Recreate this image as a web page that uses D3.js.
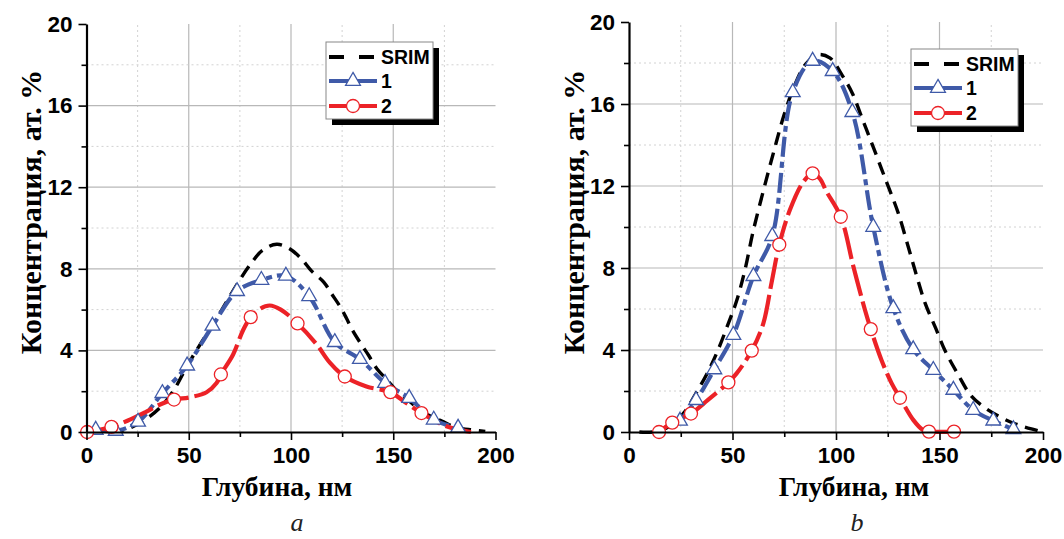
<!DOCTYPE html>
<html>
<head>
<meta charset="utf-8">
<script src="https://cdn.jsdelivr.net/npm/d3@7"></script>
<style>
  body { margin: 0; background: #fff; }
  svg { display: block; }
</style>
</head>
<body>
<svg id="chart" width="1064" height="539"></svg>
<script>
// axis ticks and texts
const xTicks = [0, 50, 100, 150, 200]
const xMinorTicks = [25, 75, 125, 175]
const yTicks = [0, 4, 8, 12, 16, 20]
const yMinorTicks = [2, 6, 10, 14, 18]
const legendLabels = ["SRIM", "1", "2"]
const xTitle = "Глубина, нм"
const yTitle = "Концентрация, ат. %"

// panel a
const srimDepthA = [12, 20, 30, 37, 43, 49, 55, 62, 68, 74, 80, 86, 93, 99, 105, 110, 116, 120, 124, 127, 130, 134, 138, 142, 147, 152, 158, 165, 174, 181, 189, 195]
const srimConcA  = [0, 0.15, 0.7, 1.3, 2.1, 3.2, 4.2, 5.3, 6.3, 7.3, 8.2, 8.9, 9.2, 9.0, 8.5, 7.9, 7.35, 6.75, 6.15, 5.6, 5.0, 4.35, 3.75, 3.1, 2.55, 2.0, 1.5, 0.95, 0.52, 0.22, 0.1, 0.03]
const s1DepthA = [4.5, 14.3, 25.2, 37.1, 49.2, 61.6, 73.6, 85.5, 97.5, 108.9, 121.4, 133.7, 146, 157.8, 169.8, 181.7]
const s1ConcA  = [0.1, 0.05, 0.5, 1.9, 3.25, 5.2, 6.9, 7.45, 7.65, 6.65, 4.4, 3.57, 2.4, 1.66, 0.6, 0.2]
const s2DepthA = [0.3, 12.2, 42.8, 65.7, 80.3, 103.2, 126.3, 148.6, 163.8]
const s2ConcA  = [0, 0.25, 1.59, 2.82, 5.63, 5.32, 2.72, 1.95, 0.93]
const s2LineDepthA = [0.3, 12.2, 20, 29.3, 36, 42.8, 50.5, 58.7, 63.6, 65.7, 71.7, 76.6, 80.3, 85, 89.6, 95, 103.2, 112.5, 119, 126.3, 136.9, 148.6, 156, 163.8, 176, 188]
const s2LineConcA  = [0, 0.25, 0.55, 1.0, 1.35, 1.59, 1.7, 1.95, 2.4, 2.82, 3.8, 5.0, 5.63, 6.05, 6.2, 6.0, 5.32, 4.3, 3.4, 2.72, 2.23, 1.95, 1.45, 0.93, 0.28, 0]

// panel b
const srimDepthB = [5, 13, 20, 27, 33, 38, 43, 48, 52, 56, 60, 65, 70, 75, 80, 85, 91, 97, 103, 108, 113, 118, 124, 130, 135, 139, 143, 148, 153, 159, 165, 171, 178, 184, 190, 197, 199]
const srimConcB  = [0, 0.02, 0.3, 1.0, 2.0, 2.9, 4.0, 5.3, 6.4, 7.9, 9.8, 11.8, 13.7, 15.5, 16.9, 17.9, 18.4, 18.25, 17.4, 16.5, 15.2, 13.9, 12.3, 10.7, 9.0, 7.6, 6.3, 5.1, 3.9, 2.8, 1.8, 1.25, 0.8, 0.5, 0.28, 0.08, 0.02]
const s1DepthB = [24.6, 32.4, 41.2, 50.4, 60.1, 69.2, 79.1, 88.7, 98.4, 107.9, 118, 127.7, 137.3, 147, 156.7, 166.3, 176, 185.7]
const s1ConcB  = [0.54, 1.55, 3.05, 4.73, 7.6, 9.55, 16.57, 18.1, 17.6, 15.6, 10.0, 6.03, 4.03, 3.02, 2.05, 1.07, 0.55, 0.13]
const s2DepthB = [14.5, 20.9, 29.95, 48, 59.3, 72.6, 88.7, 102.3, 116.8, 130.9, 144.9, 157]
const s2ConcB  = [0, 0.46, 0.9, 2.42, 3.97, 9.14, 12.62, 10.5, 5.02, 1.67, 0.02, 0.02]
const s2LineDepthB = [14.5, 20.9, 29.95, 38, 48, 52, 59.3, 64.9, 68.9, 72.6, 77.8, 84.2, 88.7, 92.3, 95.3, 102.3, 108.4, 114, 116.8, 122, 126.9, 130.9, 137.4, 142, 144.9, 157]
const s2LineConcB  = [0, 0.46, 0.9, 1.55, 2.42, 2.86, 3.97, 5.3, 7.3, 9.14, 10.85, 12.2, 12.62, 12.35, 11.75, 10.5, 8.07, 5.95, 5.02, 3.5, 2.37, 1.67, 0.58, 0.1, 0.02, 0.02]

const blue = "#3f5aa8"
const red = "#ec2227"

const svg = d3.select("#chart")

function zip(xs, ys){
  return xs.map((x, i) => [x, ys[i]])
}

function drawPanel(p){
  const x = d3.scaleLinear().domain([0, 200]).range([p.left, p.right])
  const y = d3.scaleLinear().domain([0, 20]).range([p.bottom, p.top])
  const g = svg.append("g")

  // grid
  const grid = g.append("g")
  grid.selectAll(".vmaj").data(xTicks.filter(d => d > 0 && d < 200)).join("line")
    .attr("x1", d => x(d)).attr("x2", d => x(d)).attr("y1", y(0)).attr("y2", y(20))
    .attr("stroke", "#b8b8b8").attr("stroke-width", 1.2)
  grid.selectAll(".vmin").data(xMinorTicks).join("line")
    .attr("x1", d => x(d)).attr("x2", d => x(d)).attr("y1", y(0)).attr("y2", y(20))
    .attr("stroke", "#d2d2d2").attr("stroke-width", 1).attr("stroke-dasharray", "2,3")
  grid.selectAll(".hmaj").data(yTicks.filter(d => d > 0 && d < 20)).join("line")
    .attr("x1", x(0)).attr("x2", x(200)).attr("y1", d => y(d)).attr("y2", d => y(d))
    .attr("stroke", "#b8b8b8").attr("stroke-width", 1.2)
  grid.selectAll(".hmin").data(yMinorTicks).join("line")
    .attr("x1", x(0)).attr("x2", x(200)).attr("y1", d => y(d)).attr("y2", d => y(d))
    .attr("stroke", "#d2d2d2").attr("stroke-width", 1).attr("stroke-dasharray", "2,3")

  const line = d3.line()
    .x(d => x(d[0])).y(d => y(d[1]))
    .curve(d3.curveCatmullRom.alpha(0.5))

  g.append("path").datum(zip(p.srimDepth, p.srimConc))
    .attr("d", line).attr("fill", "none")
    .attr("stroke", "#000").attr("stroke-width", 3.4).attr("stroke-dasharray", "13,8")
  g.append("path").datum(zip(p.s1Depth, p.s1Conc))
    .attr("d", line).attr("fill", "none")
    .attr("stroke", blue).attr("stroke-width", 4.2).attr("stroke-dasharray", "20,5,6,5")
  g.append("path").datum(zip(p.s2LineDepth, p.s2LineConc))
    .attr("d", line).attr("fill", "none")
    .attr("stroke", red).attr("stroke-width", 4.2).attr("stroke-dasharray", "32,6")

  const tri = d3.symbol(d3.symbolTriangle, 95)
  g.selectAll(".tri").data(zip(p.s1Depth, p.s1Conc)).join("path")
    .attr("d", tri)
    .attr("transform", d => `translate(${x(d[0])},${y(d[1])})`)
    .attr("fill", "#fff").attr("stroke", blue).attr("stroke-width", 1.3)
  g.selectAll(".circ").data(zip(p.s2Depth, p.s2Conc)).join("circle")
    .attr("cx", d => x(d[0])).attr("cy", d => y(d[1])).attr("r", 6.5)
    .attr("fill", "#fff").attr("stroke", red).attr("stroke-width", 1.3)

  // axes
  g.append("g").attr("transform", `translate(0,${p.bottom})`)
    .call(d3.axisBottom(x).tickValues(xTicks).tickSize(8).tickSizeOuter(0).tickPadding(7))
  g.append("g").attr("transform", `translate(0,${p.bottom})`)
    .call(d3.axisBottom(x).tickValues(xMinorTicks).tickSize(5).tickFormat(""))
    .call(a => a.select(".domain").remove())
  g.append("g").attr("transform", `translate(${p.left},0)`)
    .call(d3.axisLeft(y).tickValues(yTicks).tickSize(8).tickSizeOuter(0).tickPadding(6))
  g.append("g").attr("transform", `translate(${p.left},0)`)
    .call(d3.axisLeft(y).tickValues(yMinorTicks).tickSize(5).tickFormat(""))
    .call(a => a.select(".domain").remove())

  g.selectAll(".domain").attr("stroke", "#000").attr("stroke-width", 2.2)
  g.selectAll(".tick line").attr("stroke", "#000").attr("stroke-width", 1.6)
  g.selectAll(".tick text")
    .attr("font-family", "'Liberation Sans', Arial, sans-serif")
    .attr("font-weight", "bold").attr("font-size", 22.5).attr("fill", "#000")

  // titles
  g.append("text").attr("x", p.xTitleX).attr("y", 496)
    .attr("text-anchor", "middle")
    .attr("font-family", "'Liberation Serif', 'Times New Roman', serif")
    .attr("font-weight", "bold").attr("font-size", 27.5)
    .text(xTitle)
  g.append("text")
    .attr("transform", `translate(${p.yTitleX},212) rotate(-90)`)
    .attr("text-anchor", "middle")
    .attr("font-family", "'Liberation Serif', 'Times New Roman', serif")
    .attr("font-weight", "bold").attr("font-size", 30)
    .text(yTitle)
  g.append("text").attr("x", p.captionX).attr("y", 531)
    .attr("text-anchor", "middle")
    .attr("font-family", "'Liberation Serif', 'Times New Roman', serif")
    .attr("font-style", "italic").attr("font-size", 26).attr("fill", "#222")
    .text(p.caption)

  // legend
  const lg = g.append("g").attr("transform", `translate(${p.legX},${p.legY})`)
  lg.append("rect").attr("x", 6).attr("y", 6).attr("width", 107).attr("height", 77).attr("fill", "#000")
  lg.append("rect").attr("x", 0).attr("y", 0).attr("width", 107).attr("height", 77)
    .attr("fill", "#fff").attr("stroke", "#888").attr("stroke-width", 1)
  const rows = [15, 39, 64]
  const styles = [
    {stroke: "#000", dash: "15,15"},
    {stroke: blue, dash: null},
    {stroke: red, dash: null}
  ]
  legendLabels.forEach((lab, i) => {
    lg.append("line").attr("x1", 3).attr("x2", 51).attr("y1", rows[i]).attr("y2", rows[i])
      .attr("stroke", styles[i].stroke).attr("stroke-width", 4)
      .attr("stroke-dasharray", styles[i].dash)
    if (i === 1) {
      lg.append("path").attr("d", tri).attr("transform", `translate(27,${rows[i]})`)
        .attr("fill", "#fff").attr("stroke", blue).attr("stroke-width", 1.3)
    }
    if (i === 2) {
      lg.append("circle").attr("cx", 27).attr("cy", rows[i]).attr("r", 6.5)
        .attr("fill", "#fff").attr("stroke", red).attr("stroke-width", 1.3)
    }
    lg.append("text").attr("x", 55).attr("y", rows[i]).attr("dy", "0.36em")
      .attr("font-family", "'Liberation Sans', Arial, sans-serif")
      .attr("font-weight", "bold").attr("font-size", 19.5)
      .text(lab)
  })
}

drawPanel({
  left: 86.5, right: 495.5, top: 24, bottom: 432,
  srimDepth: srimDepthA, srimConc: srimConcA,
  s1Depth: s1DepthA, s1Conc: s1ConcA,
  s2Depth: s2DepthA, s2Conc: s2ConcA,
  s2LineDepth: s2LineDepthA, s2LineConc: s2LineConcA,
  legX: 326, legY: 42, xTitleX: 277, yTitleX: 41, captionX: 297, caption: "a"
})
drawPanel({
  left: 629, right: 1043, top: 22, bottom: 432,
  srimDepth: srimDepthB, srimConc: srimConcB,
  s1Depth: s1DepthB, s1Conc: s1ConcB,
  s2Depth: s2DepthB, s2Conc: s2ConcB,
  s2LineDepth: s2LineDepthB, s2LineConc: s2LineConcB,
  legX: 911, legY: 49, xTitleX: 854, yTitleX: 584, captionX: 857, caption: "b"
})
</script>
</body>
</html>
